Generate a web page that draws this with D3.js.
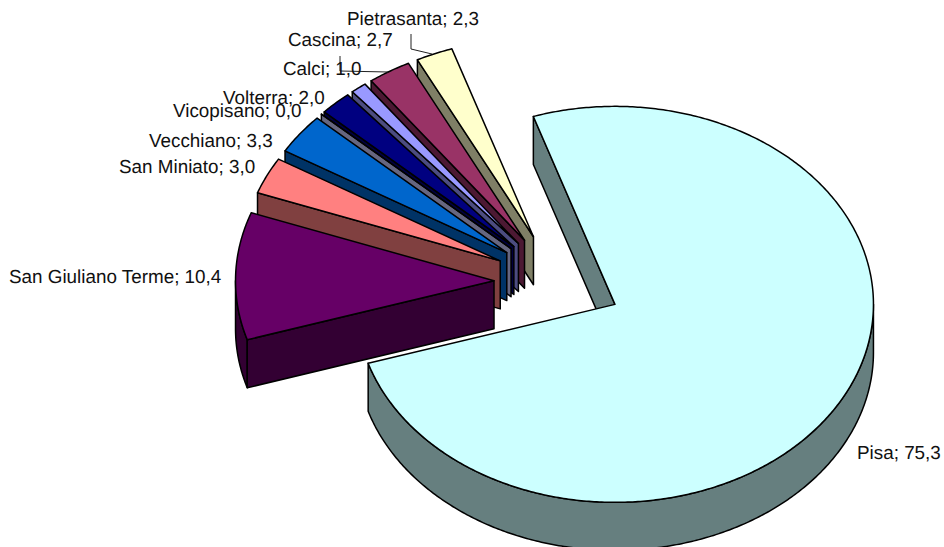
<!DOCTYPE html>
<html>
<head>
<meta charset="utf-8">
<script src="https://cdn.jsdelivr.net/npm/d3@7/dist/d3.min.js"></script>
<style>
html,body{margin:0;padding:0;background:#fff;overflow:hidden}
text{font-family:"Liberation Sans",Arial,sans-serif;font-size:18.85px;fill:#111;text-rendering:geometricPrecision}
</style>
</head>
<body>
<svg id="chart" width="944" height="547"></svg>
<script>
const categories = ["Pisa","San Giuliano Terme","San Miniato","Vecchiano","Vicopisano","Volterra","Calci","Cascina","Pietrasanta"];
const values = [75.3,10.4,3.0,3.3,0.0,2.0,1.0,2.7,2.3];
const topColors = ["#CCFFFF","#660066","#FF8080","#0066CC","#CCCCFF","#000080","#9999FF","#993366","#FFFFCC"];
const sideColors = ["#667F7F","#330033","#804040","#003366","#666680","#000040","#4C4C80","#4C1933","#7F7F66"];
const labelX = [857,9,119,149,173,223,283,288,347];
const labelY = [459,283,173,147,117,104,75,46,25];

const cx = 558, cy = 282, rx = 258.5, ry = 198, depth = 48, explode = 64;
const rad = d3.scaleLinear().domain([0,360]).range([0,2*Math.PI]);
const start = rad(-18.4);

const svg = d3.select("#chart");
const arcs = d3.pie().sort(null).value(d=>d).startAngle(start).endAngle(start+2*Math.PI)(values);

const k = ry/rx;
function pt(a,r,ox,oy,dz){ return [ox + r*Math.sin(a), oy - r*k*Math.cos(a) + dz]; }
const line = d3.line();

const slices = arcs.map((d,i)=>{
  const mid=(d.startAngle+d.endAngle)/2;
  return {i,a0:d.startAngle,a1:d.endAngle,ox:cx+explode*Math.sin(mid),oy:cy-explode*k*Math.cos(mid)};
});

const order = slices.slice().sort((a,b)=>a.i===0?1:b.i===0?-1:b.i-a.i);
const strokeW = 1.5;

function sample(a0,a1){
  const n=Math.max(2,Math.ceil(Math.abs(a1-a0)/0.01));
  return d3.range(n+1).map(j=>a0+(a1-a0)*j/n);
}
order.forEach(s=>{
  const g=svg.append("g");
  const side=sideColors[s.i], top=topColors[s.i];
  const face=pts=>g.append("path").attr("d",line(pts)+"Z").attr("fill",side).attr("stroke","#000").attr("stroke-width",strokeW).attr("stroke-linejoin","round");
  [[Math.PI/2,3*Math.PI/2],[-3*Math.PI/2,-Math.PI/2],[5*Math.PI/2,7*Math.PI/2]].forEach(([lo,hi])=>{
    const a=Math.max(lo,s.a0), b=Math.min(hi,s.a1);
    if(b>a){
      const as=sample(a,b);
      face(as.map(t=>pt(t,rx,s.ox,s.oy,0)).concat(as.slice().reverse().map(t=>pt(t,rx,s.ox,s.oy,depth))));
    }
  });
  const wall=a=>face([[s.ox,s.oy],pt(a,rx,s.ox,s.oy,0),pt(a,rx,s.ox,s.oy,depth),[s.ox,s.oy+depth]]);
  if(Math.sin(s.a0)<0) wall(s.a0);
  if(Math.sin(s.a1)>0) wall(s.a1);
  const pts=[[s.ox,s.oy]].concat(sample(s.a0,s.a1).map(t=>pt(t,rx,s.ox,s.oy,0)));
  g.append("path").attr("d",line(pts)+"Z").attr("fill",top).attr("stroke","#000").attr("stroke-width",strokeW).attr("stroke-linejoin","round");
});

const leaders=[[[411,34],[411,49],[432,54]],[[340,56],[340,71],[388,72]]];
svg.selectAll("path.leader").data(leaders).enter().append("path").attr("class","leader")
  .attr("d",d=>line(d)).attr("fill","none").attr("stroke","#222").attr("stroke-width",1);

svg.selectAll("text.lbl").data(categories).enter().append("text").attr("class","lbl")
  .attr("x",(d,i)=>labelX[i]).attr("y",(d,i)=>labelY[i])
  .text((d,i)=>d+"; "+values[i].toFixed(1).replace(".",","));
</script>
</body>
</html>
